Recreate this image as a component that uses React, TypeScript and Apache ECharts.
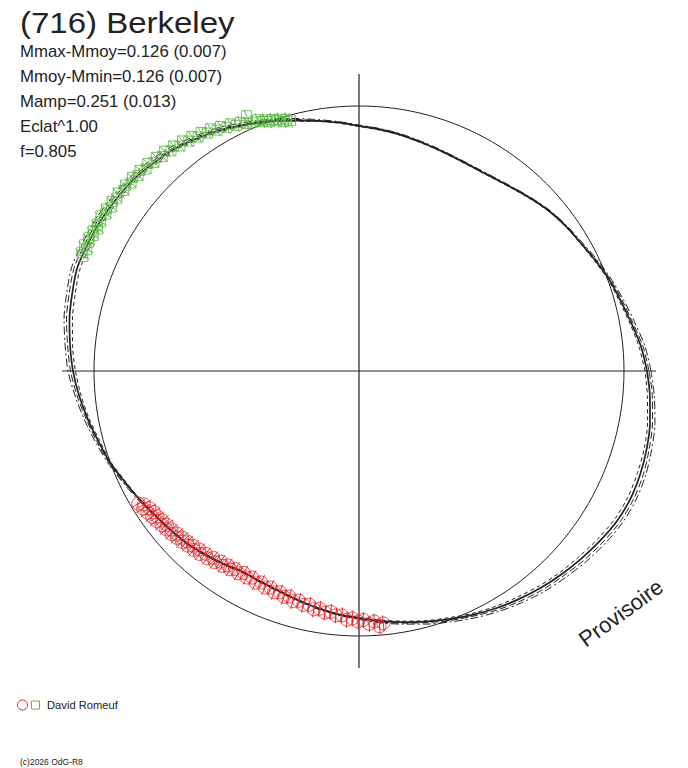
import React, { useEffect, useRef } from "react";
import * as echarts from "echarts";

// ---- data (radius in plot units: reference circle = 265, crosshair = 297) ----
const ANGLES = [0, 5, 10, 15, 20, 25, 30, 35, 40, 45, 50, 55, 60, 65, 70, 75, 80, 85, 90, 95, 100, 105, 110, 115, 120,
  125, 130, 135, 140, 145, 150, 155, 160, 165, 170, 175, 180, 185, 190, 195, 200, 205, 210, 215, 220, 225, 230, 235, 240,
  245, 250, 255, 260, 265, 270, 275, 280, 285, 290, 295, 300, 305, 310, 315, 320, 325, 330, 335, 340, 345, 350, 355, 360];

const MODEL_SOLID = [288, 283, 276.5, 271, 266.5, 261, 256, 252.5, 248.5, 243.5, 238.8, 235.3, 233.6, 233.6, 235, 237, 239.8, 242.3, 245,
  249.5, 254, 259.5, 265.5, 271.5, 278, 283.5, 289, 292.5, 296, 297.5, 299, 299.5, 300, 297, 294, 290, 286,
  281, 275.5, 270, 265.5, 259.5, 254.5, 250, 246.5, 243.5, 239.5, 235.5, 232, 232.5, 234, 237, 240.5, 244, 247,
  251, 255, 259.5, 264, 269, 274, 278.5, 283, 287, 291, 295, 298.5, 300, 299.5, 298, 295.5, 292, 288];
const MODEL_DASH_A = [290, 285, 278, 272.5, 267.5, 262, 256.5, 253, 249, 244, 239.3, 235.8, 234.1, 234.1, 235.5, 237.5, 240.3, 242.8, 245.5,
  250, 254.5, 260.5, 266.5, 272.5, 279.5, 285, 290.5, 294.5, 298, 300, 301.5, 302, 303, 300, 297, 292.5, 288.5,
  283, 277, 271.5, 266.5, 260.5, 255, 250.5, 247, 244, 240, 236, 232.5, 233, 234.5, 237.5, 241, 244.5, 247.5,
  252, 256, 260.5, 265.5, 270.5, 276, 281, 285.5, 289.5, 294, 298, 301.5, 303, 302.5, 300.5, 298, 294.5, 290];
const MODEL_DASH_B = [286, 281, 275, 269.5, 265.5, 260, 255.5, 252, 248, 243, 238.3, 234.8, 233.1, 233.1, 234.5, 236.5, 239.3, 241.8, 244.5,
  249, 253.5, 258.5, 264.5, 270.5, 276.5, 282, 287.5, 290.5, 294, 295, 296.5, 297, 297, 294, 291, 287.5, 283.5,
  279, 274, 268.5, 264.5, 258.5, 254, 249.5, 246, 243, 239, 235, 231.5, 232, 233.5, 236.5, 240, 243.5, 246.5,
  250, 254, 258.5, 262.5, 267.5, 272, 276, 280.5, 284.5, 288, 292, 295.5, 297, 296.5, 295.5, 293, 289.5, 286];
const MODEL_DASH_DOT = [292, 287, 280, 274, 268.5, 263, 257.5, 253.5, 249.5, 244.5, 239.8, 236.3, 234.6, 234.6, 236, 238, 240.8, 243.3, 246,
  250.5, 255.5, 261.5, 267.5, 274, 281, 286.5, 292.5, 296.5, 300, 302, 304, 304.5, 305.5, 302.5, 299.5, 295, 291,
  285, 279, 273, 267.5, 261.5, 256, 251, 247.5, 244.5, 240.5, 236.5, 233, 233.5, 235, 238, 241.5, 245, 248.5,
  253, 257, 262, 267, 272.5, 278, 283, 288, 292, 296.5, 300.5, 304, 305.5, 305, 303, 300.5, 296.5, 292];

// observations: [angle (deg), radius]
const RED_OBS: [number, number][] = [
  [211, 257.5], [211.8, 253], [212.5, 256], [213.2, 250.5], [213.8, 254.5], [214.5, 249], [215.2, 253], [215.8, 248.5],
  [216.5, 252], [217.2, 247], [218, 250.5], [218.7, 246], [219.4, 249.5], [220.2, 245.5], [221, 248.5], [221.8, 244],
  [222.5, 247], [223.3, 243], [224, 246], [224.8, 242], [225.6, 244.5], [226.5, 241], [227.3, 243.5], [228.2, 239.5],
  [229, 242.5], [230, 238.5], [231, 241], [232, 237], [233, 239.5], [234, 235.5], [235, 238], [236, 234.5],
  [237, 236.5], [238, 233.5], [239.2, 235.5], [240.3, 232.5], [241.5, 235], [242.7, 232.5], [244, 235.5], [245.2, 233],
  [246.5, 236], [247.8, 234], [249, 237], [250.3, 235], [251.6, 238], [252.8, 236], [254, 239.5], [255.3, 237.5],
  [256.6, 240.5], [258, 239], [259.3, 242.5], [260.6, 241], [262, 244], [263.3, 242.5], [264.6, 245.5], [266, 245],
  [267.2, 249], [268.5, 247.5], [269.8, 250.5], [271, 249], [272.3, 253], [273.5, 251], [274.6, 256], [275.5, 253.5],
];
const GREEN_OBS: [number, number][] = [
  [157.5, 299], [156.8, 301.5], [156, 298], [155.3, 302], [154.5, 299.5], [153.7, 301], [153, 298.5], [152.2, 300.5],
  [151.5, 297.5], [150.7, 300], [150, 298.5], [149, 301], [148.2, 298], [147.3, 300], [146.5, 297], [145.5, 299.5],
  [144.5, 297.5], [143.5, 299.5], [142.5, 296.5], [141.5, 298.5], [140.5, 295.5], [139.5, 298], [138.5, 295], [137.5, 297],
  [136.5, 293.5], [135.5, 296], [134.5, 292.5], [133.5, 294.5], [132.5, 291], [131.5, 293.5], [130.5, 289.5], [129.5, 291.5],
  [128.5, 287.5], [127.5, 290], [126.5, 286], [125.5, 288], [124.5, 284], [123.5, 286], [122.5, 282], [121.5, 284],
  [120.5, 279.5], [119.5, 281], [118.5, 277], [117.5, 278.5], [116.5, 274.5], [115.5, 275.5], [114.5, 272], [113.8, 279],
  [113, 270.5], [112, 271], [111.2, 267.5], [110.5, 268], [109.8, 265], [109, 266], [108.2, 263.5], [107.5, 264],
  [106.8, 260.5], [106, 262], [105.3, 259.5],
];
const RED_ERR = 8;
const GREEN_ERR = 7;

const TITLE = "(716) Berkeley";
const STAT_LINES = ["Mmax-Mmoy=0.126 (0.007)", "Mmoy-Mmin=0.126 (0.007)", "Mamp=0.251 (0.013)", "Eclat^1.00", "f=0.805"];
const AUTHOR = "David Romeuf";
const COPYRIGHT = "(c)2026 OdG-R8";
const WATERMARK = "Provisoire";

const INK = "#222222";
const RED = "#e8262b";
const GREEN = "#5cb946";
const FONT = '"Liberation Sans", Arial, sans-serif';
const CENTER = [359, 371];

function curve(values: number[]) {
  return ANGLES.map((a, i) => [values[i], a]);
}

function errorSeries(obs: [number, number][], err: number, color: string) {
  return {
    type: "custom",
    coordinateSystem: "polar",
    polarIndex: 0,
    clip: false,
    silent: true,
    z: 4,
    data: obs.map(([a, r]) => [r, a]),
    renderItem: (_params: any, api: any) => {
      const r = api.value(0);
      const a = api.value(1);
      const p1 = api.coord([r - err, a]);
      const p2 = api.coord([r + err, a]);
      return {
        type: "line",
        shape: { x1: p1[0], y1: p1[1], x2: p2[0], y2: p2[1] },
        style: { stroke: color, lineWidth: 1 },
      };
    },
  };
}

const hiddenRadius = (polarIndex: number, max: number) => ({
  polarIndex, type: "value", min: 0, max,
  axisLine: { show: false }, axisTick: { show: false }, axisLabel: { show: false }, splitLine: { show: false },
});

export default function App() {
  const ref = useRef<HTMLDivElement>(null);
  useEffect(() => {
    if (!ref.current) return;
    const chart = echarts.init(ref.current, undefined, { renderer: "svg" });
    const lineBase = {
      type: "line",
      coordinateSystem: "polar",
      polarIndex: 0,
      showSymbol: false,
      smooth: 0.3,
      clip: false,
      silent: true,
    };
    chart.setOption({
      animation: false,
      backgroundColor: "#ffffff",
      polar: [
        { center: CENTER, radius: 340 },
        { center: CENTER, radius: 297 },
        { center: CENTER, radius: 265 },
      ],
      angleAxis: [
        {
          polarIndex: 0, type: "value", min: 0, max: 360, startAngle: 0, clockwise: false,
          axisLine: { show: false }, axisTick: { show: false }, axisLabel: { show: false }, splitLine: { show: false },
        },
        {
          polarIndex: 1, type: "value", min: 0, max: 360, interval: 90, startAngle: 0, clockwise: false,
          axisLine: { show: false }, axisTick: { show: false }, axisLabel: { show: false },
          splitLine: { show: true, lineStyle: { color: INK, width: 1.2 } },
        },
        {
          polarIndex: 2, type: "value", min: 0, max: 360, interval: 90, startAngle: 0, clockwise: false,
          axisLine: { show: true, lineStyle: { color: INK, width: 1 } }, axisTick: { show: false },
          axisLabel: { show: false }, splitLine: { show: false },
        },
      ],
      radiusAxis: [hiddenRadius(0, 340), hiddenRadius(1, 1), hiddenRadius(2, 1)],
      series: [
        { ...lineBase, name: "model", data: curve(MODEL_SOLID), lineStyle: { color: INK, width: 1.7 }, z: 3 },
        { ...lineBase, name: "model-a", data: curve(MODEL_DASH_A), lineStyle: { color: INK, width: 1, type: [7, 3] }, z: 3 },
        { ...lineBase, name: "model-b", data: curve(MODEL_DASH_B), lineStyle: { color: INK, width: 1, type: [4, 3] }, z: 3 },
        { ...lineBase, name: "model-c", data: curve(MODEL_DASH_DOT), lineStyle: { color: INK, width: 1, type: [8, 3, 2, 3] }, z: 3 },
        errorSeries(RED_OBS, RED_ERR, RED),
        errorSeries(GREEN_OBS, GREEN_ERR, GREEN),
        {
          type: "scatter", coordinateSystem: "polar", polarIndex: 0, clip: false, silent: true, z: 5,
          symbol: "circle", symbolSize: 13,
          itemStyle: { color: "rgba(0,0,0,0)", borderColor: RED, borderWidth: 1 },
          data: RED_OBS.map(([a, r]) => [r, a]),
        },
        {
          type: "scatter", coordinateSystem: "polar", polarIndex: 0, clip: false, silent: true, z: 5,
          symbol: "rect", symbolSize: 10,
          itemStyle: { color: "rgba(0,0,0,0)", borderColor: GREEN, borderWidth: 1 },
          data: GREEN_OBS.map(([a, r]) => [r, a]),
        },
      ],
      graphic: [
        {
          type: "text", x: 20, y: 23, scaleX: 1.1, silent: true,
          style: { text: TITLE, fill: INK, font: `30px ${FONT}`, align: "left", verticalAlign: "middle" },
        },
        ...STAT_LINES.map((t, i) => ({
          type: "text", x: 20, y: 51 + i * 25, scaleX: 1.05, silent: true,
          style: { text: t, fill: INK, font: `16px ${FONT}`, align: "left", verticalAlign: "middle" },
        })),
        {
          type: "text", x: 621, y: 613, rotation: (36 * Math.PI) / 180, silent: true,
          style: { text: WATERMARK, fill: INK, font: `22px ${FONT}`, align: "center", verticalAlign: "middle" },
        },
        {
          type: "circle", shape: { cx: 22.5, cy: 705, r: 5 }, silent: true,
          style: { fill: "none", stroke: RED, lineWidth: 1 },
        },
        {
          type: "rect", shape: { x: 31.5, y: 701, width: 8, height: 8 }, silent: true,
          style: { fill: "none", stroke: GREEN, lineWidth: 1 },
        },
        {
          type: "text", x: 47, y: 705, scaleX: 1.12, silent: true,
          style: { text: AUTHOR, fill: INK, font: `10px ${FONT}`, align: "left", verticalAlign: "middle" },
        },
        {
          type: "text", x: 20, y: 762, silent: true,
          style: { text: COPYRIGHT, fill: INK, font: `8.5px ${FONT}`, align: "left", verticalAlign: "middle" },
        },
      ],
    });
    return () => chart.dispose();
  }, []);
  return (
    <div
      ref={ref}
      style={{ position: "absolute", left: 0, top: 0, width: 688, height: 768, background: "#fff" }}
    />
  );
}
